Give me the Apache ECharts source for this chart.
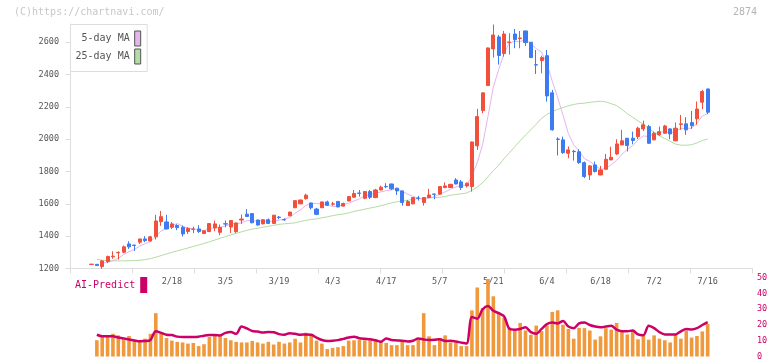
<!DOCTYPE html>
<html>
<head>
<meta charset="utf-8">
<script src="https://cdn.jsdelivr.net/npm/echarts@6/dist/echarts.min.js"></script>
<style>html,body{margin:0;padding:0;background:#fff}#chart{width:772px;height:361px}</style>
</head>
<body>
<div id="chart"></div>
<script>
// trading days shown on the chart
const dates = [
  '1/27','1/28','1/29','1/30','2/2','2/3','2/4','2/5','2/6','2/9',
  '2/10','2/12','2/13','2/16','2/17','2/18','2/19','2/20','2/24','2/25',
  '2/26','2/27','3/2','3/3','3/4','3/5','3/6','3/9','3/10','3/11',
  '3/12','3/13','3/16','3/17','3/18','3/19','3/23','3/24','3/25','3/26',
  '3/27','3/30','3/31','4/1','4/2','4/3','4/6','4/7','4/8','4/9',
  '4/10','4/13','4/14','4/15','4/16','4/17','4/20','4/21','4/22','4/23',
  '4/24','4/27','4/28','4/30','5/1','5/7','5/8','5/11','5/12','5/13',
  '5/14','5/15','5/18','5/19','5/20','5/21','5/22','5/25','5/26','5/27',
  '5/28','5/29','6/1','6/2','6/3','6/4','6/5','6/8','6/9','6/10',
  '6/11','6/12','6/15','6/16','6/17','6/18','6/19','6/22','6/23','6/24',
  '6/25','6/26','6/29','6/30','7/1','7/2','7/3','7/6','7/7','7/8',
  '7/9','7/10','7/13','7/14','7/15','7/16'
];
const labelIdx = [15, 25, 35, 45, 55, 65, 75, 85, 95, 105, 115];
const priceTicks = [1200, 1400, 1600, 1800, 2000, 2200, 2400, 2600];

const openVals = [
  1225,1226,1212,1243,1272,1297,1301,1352,1345,1363,
  1383,1370,1396,1490,1488,1455,1466,1455,1429,1442,
  1445,1416,1429,1451,1424,1477,1457,1428,1500,1536,
  1540,1500,1476,1502,1479,1518,1503,1526,1576,1600,
  1632,1605,1568,1576,1612,1598,1615,1586,1618,1641,
  1667,1635,1676,1639,1686,1708,1723,1697,1680,1589,
  1600,1636,1608,1639,1661,1660,1701,1701,1748,1736,
  1711,1707,1959,2177,2332,2559,2633,2530,2598,2651,
  2623,2670,2600,2461,2487,2517,2287,2001,1996,1913,
  1925,1922,1855,1779,1841,1779,1814,1872,1909,1965,
  2006,2006,2016,2064,2078,1996,2027,2037,2064,1990,
  2091,2095,2103,2126,2229,2311
];
const closeVals = [
  1227,1218,1247,1274,1276,1300,1334,1334,1343,1383,
  1372,1396,1494,1521,1445,1476,1453,1414,1449,1444,
  1429,1433,1478,1476,1455,1475,1497,1482,1506,1522,
  1483,1469,1502,1479,1530,1516,1501,1549,1620,1624,
  1654,1576,1535,1612,1591,1600,1581,1602,1645,1664,
  1665,1676,1641,1686,1703,1706,1693,1680,1608,1614,
  1639,1634,1639,1655,1659,1707,1711,1721,1723,1701,
  1728,1983,2140,2287,2565,2645,2518,2651,2602,2616,
  2627,2598,2505,2459,2505,2268,2058,1999,1917,1934,
  1923,1856,1769,1835,1800,1810,1876,1888,1971,1990,
  1961,1992,2068,2089,1975,2037,2047,2082,2033,2068,
  2095,2058,2084,2187,2295,2167
];
const lowVals = [
  1224,1217,1198,1233,1260,1255,1294,1321,1309,1352,
  1363,1368,1379,1464,1443,1445,1437,1398,1414,1418,
  1420,1414,1424,1431,1406,1455,1420,1420,1476,1520,
  1480,1465,1474,1476,1477,1505,1495,1524,1574,1598,
  1627,1565,1530,1574,1588,1588,1579,1584,1616,1639,
  1645,1629,1629,1635,1684,1697,1686,1655,1589,1587,
  1598,1620,1589,1637,1629,1658,1697,1699,1721,1686,
  1701,1676,1934,2161,2330,2505,2462,2511,2524,2563,
  2563,2577,2503,2404,2408,2233,2053,1899,1909,1882,
  1868,1847,1759,1748,1794,1777,1812,1870,1903,1963,
  1924,1969,2000,2051,1971,1994,2021,2035,2000,1988,
  2058,2027,2064,2089,2185,2155
];
const highVals = [
  1228,1227,1253,1280,1307,1306,1342,1369,1346,1384,
  1400,1402,1532,1556,1532,1488,1474,1466,1455,1459,
  1468,1435,1480,1497,1472,1497,1499,1484,1534,1567,
  1542,1503,1504,1510,1532,1525,1510,1551,1622,1626,
  1663,1608,1575,1614,1620,1612,1617,1608,1647,1686,
  1686,1680,1686,1693,1713,1728,1725,1699,1682,1624,
  1641,1649,1641,1693,1662,1709,1732,1723,1759,1748,
  1732,1985,2188,2289,2567,2710,2645,2670,2656,2682,
  2670,2672,2602,2552,2517,2552,2305,2012,2016,1955,
  1934,1938,1862,1841,1862,1835,1909,1954,2000,2058,
  2008,2047,2078,2115,2089,2047,2078,2089,2068,2103,
  2150,2136,2175,2233,2305,2313
];
const ma5 = [
  null,null,1232,1240,1248,1263,1286,1304,1317,1339,
  1353,1366,1398,1433,1446,1466,1478,1462,1447,1447,
  1438,1434,1447,1452,1454,1463,1476,1477,1483,1496,
  1498,1492,1496,1491,1493,1499,1506,1515,1543,1562,
  1590,1605,1602,1600,1594,1583,1584,1597,1603,1618,
  1631,1650,1658,1666,1674,1682,1686,1694,1678,1660,
  1647,1635,1627,1636,1645,1659,1674,1691,1704,1713,
  1717,1771,1855,1968,2141,2324,2431,2533,2596,2606,
  2603,2619,2590,2561,2539,2467,2359,2258,2149,2035,
  1966,1926,1880,1863,1837,1814,1818,1842,1869,1907,
  1937,1960,1996,2020,2017,2032,2043,2046,2035,2053,
  2065,2067,2068,2098,2144,2158
];
const ma25 = [
  null,1257,1251,1248,1247,1247,1247,1248,1249,1251,
  1255,1261,1270,1280,1290,1300,1309,1318,1327,1336,
  1345,1355,1365,1376,1387,1397,1408,1417,1427,1436,
  1444,1449,1456,1461,1467,1473,1477,1479,1483,1491,
  1498,1503,1507,1514,1520,1527,1533,1537,1544,1553,
  1560,1567,1574,1581,1588,1597,1606,1613,1618,1622,
  1627,1632,1635,1637,1638,1640,1646,1653,1658,1662,
  1667,1683,1705,1731,1767,1806,1839,1880,1917,1953,
  1990,2026,2059,2093,2129,2154,2171,2185,2196,2207,
  2215,2221,2223,2228,2232,2235,2231,2220,2208,2185,
  2157,2136,2113,2093,2067,2043,2021,2004,1987,1970,
  1963,1963,1966,1977,1992,2001
];
const volume = [
  null,10.3,12.4,12.4,14.4,13.4,11.3,13.0,9.9,9.3,
  11.3,14.4,27.5,15.5,11.7,10.1,9.3,8.9,8.2,8.6,
  6.6,7.8,12.4,13.4,13.0,11.7,10.3,9.3,8.9,8.9,
  9.9,8.9,8.2,9.3,7.6,9.3,8.2,8.9,11.3,8.9,
  15.1,13.4,10.1,8.2,4.7,5.5,5.9,6.6,10.1,10.3,
  10.7,10.3,10.3,10.9,9.3,8.6,7.2,7.2,9.9,7.2,
  7.2,10.5,27.5,12.8,7.2,11.7,13.4,8.9,8.9,6.6,
  6.6,29.3,43.8,30.8,49.2,38.2,27.9,24.5,18.5,16.5,
  21.3,16.5,13.8,19.6,16.1,19.6,28.3,29.3,20.2,17.5,
  11.3,18.2,18.0,16.5,10.7,12.8,18.0,17.1,21.3,15.5,
  14.0,16.5,10.9,13.4,10.7,13.4,11.3,10.3,8.9,13.8,
  11.3,16.5,12.0,13.0,15.9,20.6
];
const aiPredict = [
  null,13.8,12.8,12.8,12.8,12.0,11.5,10.8,10.2,9.7,
  9.8,10.5,16.0,15.0,13.8,13.6,12.6,12.4,12.4,12.4,
  12.6,13.2,13.6,13.6,13.4,15.0,15.5,14.4,19.0,17.8,
  16.2,15.8,15.2,15.6,15.4,14.2,13.8,14.8,14.4,13.8,
  14.0,13.8,12.0,10.5,9.8,10.0,10.4,11.2,12.0,12.6,
  11.6,11.2,10.9,10.3,9.4,11.4,10.5,10.2,10.0,9.5,
  10.0,11.4,10.8,10.4,10.6,11.0,9.8,10.0,9.5,8.8,
  8.2,25.0,24.0,30.0,32.0,29.0,27.5,25.5,17.5,17.0,
  17.5,18.5,15.5,14.5,17.5,20.5,21.5,21.0,22.5,19.0,
  18.0,21.0,21.5,20.0,19.0,18.5,19.0,19.5,17.0,16.0,
  16.0,16.5,14.0,13.5,19.5,18.0,15.5,14.0,14.0,14.0,
  16.0,17.5,17.2,18.0,20.0,21.8
];

const MONO = "'DejaVu Sans Mono', monospace";
const RED = '#f0503c';
const BLUE = '#3c7cf0';
const PINK = '#e6b4ec';
const GREEN = '#b4dca4';
const ORANGE = '#f0983c';
const MAGENTA = '#cc0066';

// layout: frame axis spans 70.5..752.5, candles sit on a narrower band
const slot = 5.358;
const frameLeft = 70.5;
const frameRight = 752.5;
const candleLeft = 91.5 - slot / 2;
const candleWidth = slot * dates.length;

const ohlc = dates.map((d, i) => [openVals[i], closeVals[i], lowVals[i], highVals[i]]);

const chart = echarts.init(document.getElementById('chart'));

chart.setOption({
  animation: false,
  backgroundColor: '#fff',
  graphic: [
    { type: 'text', left: 14, top: 7, style: { text: '(C)https://chartnavi.com/', font: '10px ' + MONO, fill: '#c8c8c8' } },
    { type: 'text', right: 15, top: 7, style: { text: '2874', font: '10px ' + MONO, fill: '#b4b4b4' } }
  ],
  legend: [
    {
      data: [{ name: '5-day MA', icon: 'rect' }, { name: '25-day MA', icon: 'rect' }],
      orient: 'vertical',
      align: 'right',
      left: frameLeft,
      top: 24.5,
      itemWidth: 6,
      itemHeight: 15,
      itemGap: 2,
      padding: [6, 6, 7, 5],
      backgroundColor: '#fff',
      borderColor: '#ddd',
      borderWidth: 1,
      selectedMode: false,
      formatter: (n) => n.padStart(9, ' '),
      textStyle: { fontFamily: MONO, fontSize: 10, color: '#555' },
      itemStyle: { borderColor: '#555', borderWidth: 1 }
    },
    {
      data: [{ name: 'AI-Predict', icon: 'rect' }],
      align: 'right',
      left: 75,
      top: 277,
      itemWidth: 7,
      itemHeight: 16,
      padding: 0,
      selectedMode: false,
      textStyle: { fontFamily: MONO, fontSize: 10, color: MAGENTA },
      itemStyle: { borderWidth: 0 }
    }
  ],
  grid: [
    { left: frameLeft, top: 24, width: frameRight - frameLeft, height: 244.5 },
    { left: candleLeft, top: 24, width: candleWidth, height: 244.5 },
    { left: candleLeft, top: 277.7, width: candleWidth, height: 80.6 }
  ],
  xAxis: [
    {
      gridIndex: 0, type: 'value', min: 0, max: 11, interval: 1,
      axisLine: { lineStyle: { color: '#ddd' } },
      axisTick: { length: 5, lineStyle: { color: '#ddd' } },
      axisLabel: { show: false },
      splitLine: { show: false }
    },
    {
      gridIndex: 1, type: 'category', data: dates,
      axisLine: { show: false },
      axisTick: { show: false },
      axisLabel: {
        interval: (i) => labelIdx.includes(i),
        color: '#555', fontFamily: MONO, fontSize: 8.5, margin: 9
      }
    },
    { gridIndex: 2, type: 'category', data: dates, show: false }
  ],
  yAxis: [
    { gridIndex: 0, type: 'value', min: 0, max: 1, show: false },
    {
      gridIndex: 1, type: 'value', min: 1200, max: 2713,
      offset: candleLeft - frameLeft,
      axisLine: { show: true, lineStyle: { color: '#ddd' } },
      axisTick: { show: true, length: 5, customValues: priceTicks, lineStyle: { color: '#ddd' } },
      axisLabel: {
        customValues: priceTicks, formatter: (v) => String(v),
        color: '#555', fontFamily: MONO, fontSize: 8.5, margin: 11.5
      },
      splitLine: { show: false }
    },
    {
      gridIndex: 2, type: 'value', min: 0, max: 50, interval: 10, position: 'right',
      offset: frameRight - (candleLeft + candleWidth),
      axisLine: { show: false },
      axisTick: { show: false },
      axisLabel: { color: MAGENTA, fontFamily: MONO, fontSize: 8.5, margin: 4.5 },
      splitLine: { show: false }
    }
  ],
  series: [
    {
      name: '25-day MA', type: 'line', xAxisIndex: 1, yAxisIndex: 1, data: ma25,
      showSymbol: false, symbol: 'none', silent: true, z: 2,
      lineStyle: { width: 1, color: GREEN }, itemStyle: { color: GREEN }
    },
    {
      name: '5-day MA', type: 'line', xAxisIndex: 1, yAxisIndex: 1, data: ma5,
      showSymbol: false, symbol: 'none', silent: true, z: 2,
      lineStyle: { width: 1, color: PINK }, itemStyle: { color: PINK }
    },
    {
      name: 'price', type: 'candlestick', xAxisIndex: 1, yAxisIndex: 1, data: ohlc,
      barWidth: 3.6, z: 3,
      itemStyle: { color: RED, color0: BLUE, borderColor: RED, borderColor0: BLUE, borderWidth: 1 }
    },
    {
      name: 'volume', type: 'bar', xAxisIndex: 2, yAxisIndex: 2, data: volume,
      barWidth: 3.6, itemStyle: { color: ORANGE }
    },
    {
      name: 'AI-Predict', type: 'line', xAxisIndex: 2, yAxisIndex: 2, data: aiPredict,
      showSymbol: false, symbol: 'none', smooth: 0.3,
      lineStyle: { width: 2.5, color: MAGENTA }, itemStyle: { color: MAGENTA }
    }
  ]
});
</script>
</body>
</html>
